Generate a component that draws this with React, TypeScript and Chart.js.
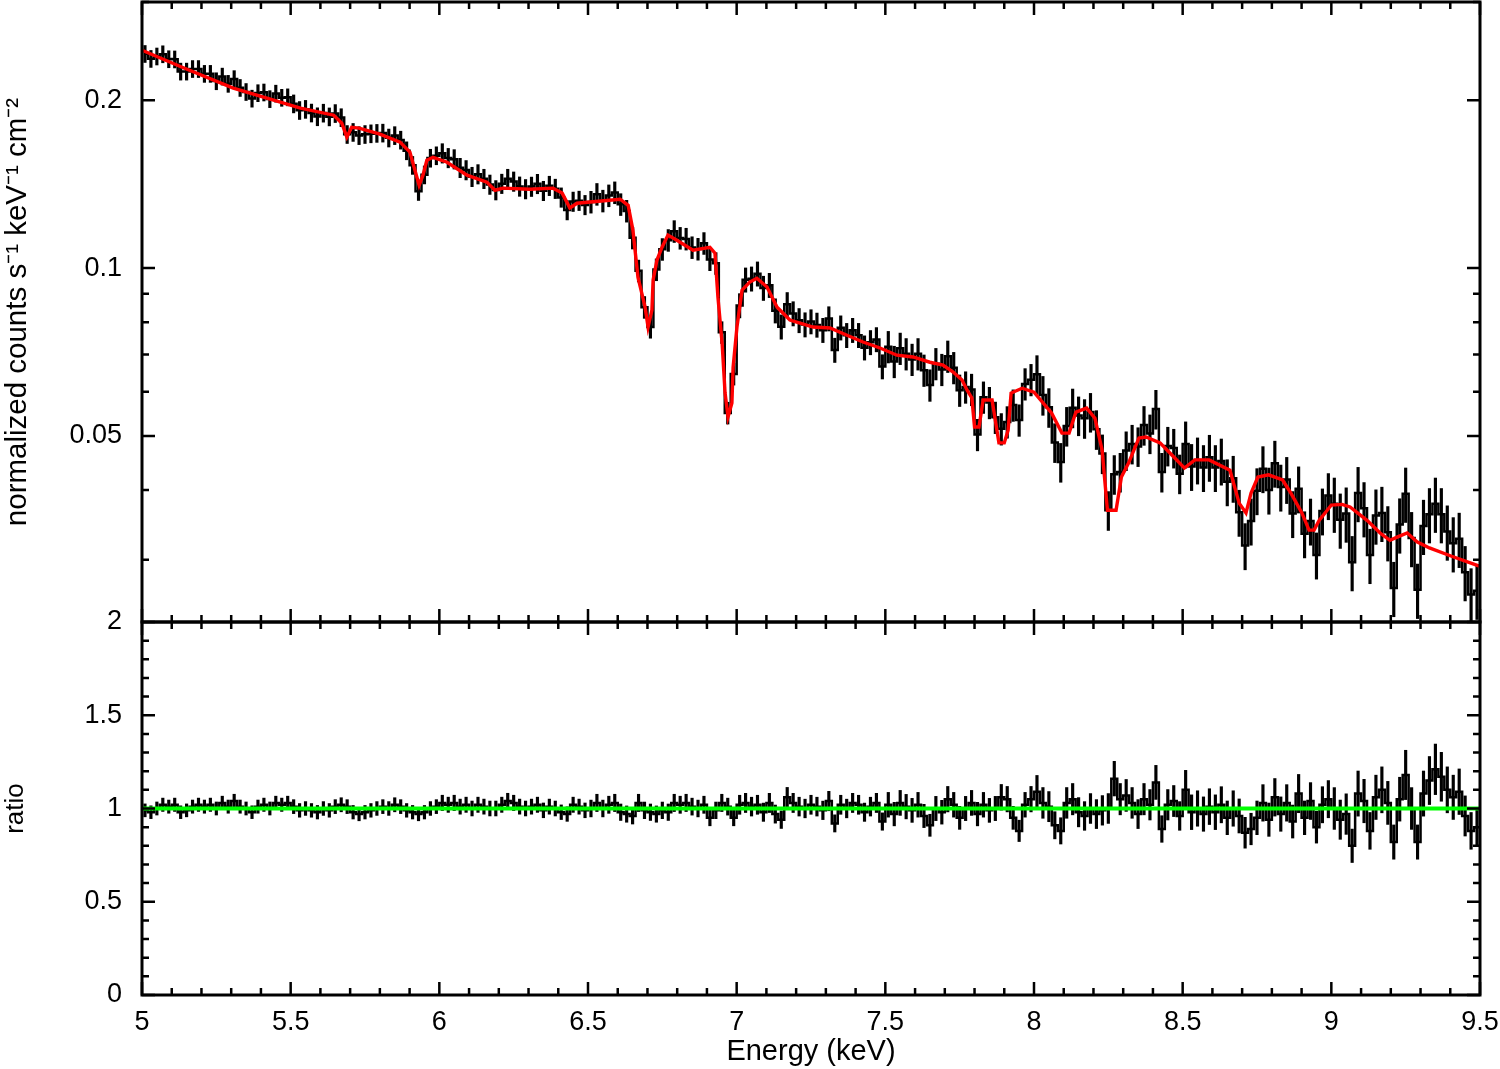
import React, { useEffect, useRef } from 'react';
import { Chart, registerables } from 'chart.js';
Chart.register(...registerables);

// ---- bin centres (keV) ----
const energy = [
  5.01, 5.03, 5.05, 5.07, 5.09, 5.11, 5.13, 5.15, 5.17, 5.19,
  5.21, 5.23, 5.25, 5.27, 5.29, 5.31, 5.33, 5.35, 5.37, 5.39,
  5.41, 5.43, 5.45, 5.47, 5.49, 5.51, 5.53, 5.55, 5.57, 5.59,
  5.61, 5.63, 5.65, 5.67, 5.69, 5.71, 5.73, 5.75, 5.77, 5.79,
  5.81, 5.83, 5.85, 5.87, 5.89, 5.91, 5.93, 5.95, 5.97, 5.99,
  6.01, 6.03, 6.05, 6.07, 6.09, 6.11, 6.13, 6.15, 6.17, 6.19,
  6.21, 6.23, 6.25, 6.27, 6.29, 6.31, 6.33, 6.35, 6.37, 6.39,
  6.41, 6.43, 6.45, 6.47, 6.49, 6.51, 6.53, 6.55, 6.57, 6.59,
  6.61, 6.63, 6.65, 6.67, 6.69, 6.71, 6.73, 6.75, 6.77, 6.79,
  6.81, 6.83, 6.85, 6.87, 6.89, 6.91, 6.93, 6.95, 6.97, 6.99,
  7.01, 7.03, 7.05, 7.07, 7.09, 7.11, 7.13, 7.15, 7.17, 7.19,
  7.21, 7.23, 7.25, 7.27, 7.29, 7.31, 7.33, 7.35, 7.37, 7.39,
  7.41, 7.43, 7.45, 7.47, 7.49, 7.51, 7.53, 7.55, 7.57, 7.59,
  7.61, 7.63, 7.65, 7.67, 7.69, 7.71, 7.73, 7.75, 7.77, 7.79,
  7.81, 7.83, 7.85, 7.87, 7.89, 7.91, 7.93, 7.95, 7.97, 7.99,
  8.01, 8.03, 8.05, 8.07, 8.09, 8.11, 8.13, 8.15, 8.17, 8.19,
  8.21, 8.23, 8.25, 8.27, 8.29, 8.31, 8.33, 8.35, 8.37, 8.39,
  8.41, 8.43, 8.45, 8.47, 8.49, 8.51, 8.53, 8.55, 8.57, 8.59,
  8.61, 8.63, 8.65, 8.67, 8.69, 8.71, 8.73, 8.75, 8.77, 8.79,
  8.81, 8.83, 8.85, 8.87, 8.89, 8.91, 8.93, 8.95, 8.97, 8.99,
  9.01, 9.03, 9.05, 9.07, 9.09, 9.11, 9.13, 9.15, 9.17, 9.19,
  9.21, 9.23, 9.25, 9.27, 9.29, 9.31, 9.33, 9.35, 9.37, 9.39,
  9.41, 9.43, 9.45, 9.47, 9.49,
];

// ---- observed normalized counts (s^-1 keV^-1 cm^-2) ----
const counts = [
  0.2422, 0.2373, 0.2397, 0.2419, 0.2370, 0.2368, 0.2252, 0.2252, 0.2276, 0.2276,
  0.2231, 0.2231, 0.2164, 0.2206, 0.2141, 0.2183, 0.2105, 0.2070, 0.2014, 0.2060,
  0.2066, 0.2010, 0.2056, 0.2021, 0.2025, 0.1971, 0.1918, 0.1927, 0.1898, 0.1869,
  0.1897, 0.1868, 0.1894, 0.1862, 0.1737, 0.1752, 0.1729, 0.1737, 0.1742, 0.1745,
  0.1747, 0.1712, 0.1729, 0.1697, 0.1624, 0.1529, 0.1373, 0.1470, 0.1575, 0.1591,
  0.1607, 0.1576, 0.1568, 0.1513, 0.1499, 0.1458, 0.1474, 0.1446, 0.1412, 0.1380,
  0.1417, 0.1446, 0.1430, 0.1401, 0.1386, 0.1400, 0.1416, 0.1376, 0.1405, 0.1388,
  0.1339, 0.1271, 0.1316, 0.1321, 0.1298, 0.1314, 0.1357, 0.1320, 0.1349, 0.1366,
  0.1301, 0.1266, 0.1133, 0.0989, 0.0851, 0.0784, 0.0994, 0.1081, 0.1122, 0.1164,
  0.1132, 0.1128, 0.1089, 0.1082, 0.1108, 0.1036, 0.1020, 0.0767, 0.0550, 0.0646,
  0.0857, 0.0953, 0.0957, 0.0977, 0.0921, 0.0932, 0.0839, 0.0785, 0.0861, 0.0829,
  0.0806, 0.0792, 0.0802, 0.0791, 0.0774, 0.0812, 0.0713, 0.0782, 0.0758, 0.0774,
  0.0758, 0.0720, 0.0736, 0.0745, 0.0666, 0.0723, 0.0680, 0.0718, 0.0702, 0.0686,
  0.0702, 0.0656, 0.0617, 0.0674, 0.0658, 0.0695, 0.0663, 0.0604, 0.0612, 0.0606,
  0.0503, 0.0587, 0.0574, 0.0540, 0.0515, 0.0530, 0.0568, 0.0534, 0.0620, 0.0631,
  0.0645, 0.0592, 0.0563, 0.0487, 0.0449, 0.0521, 0.0562, 0.0544, 0.0538, 0.0552,
  0.0514, 0.0465, 0.0368, 0.0427, 0.0431, 0.0471, 0.0484, 0.0479, 0.0523, 0.0505,
  0.0559, 0.0431, 0.0480, 0.0476, 0.0428, 0.0484, 0.0441, 0.0453, 0.0439, 0.0458,
  0.0439, 0.0451, 0.0414, 0.0420, 0.0365, 0.0318, 0.0352, 0.0399, 0.0437, 0.0400,
  0.0447, 0.0405, 0.0418, 0.0363, 0.0402, 0.0334, 0.0352, 0.0306, 0.0367, 0.0391,
  0.0378, 0.0354, 0.0363, 0.0297, 0.0395, 0.0371, 0.0306, 0.0360, 0.0364, 0.0336,
  0.0267, 0.0347, 0.0394, 0.0328, 0.0265, 0.0345, 0.0362, 0.0378, 0.0362, 0.0337,
  0.0321, 0.0327, 0.0285, 0.0260, 0.0264,
];

// ---- data / model ratio ----
const ratio = [
  0.99, 0.98, 1.00, 1.02, 1.01, 1.02, 0.98, 0.99, 1.01, 1.02,
  1.01, 1.02, 1.00, 1.03, 1.01, 1.04, 1.01, 1.00, 0.98, 1.01,
  1.02, 1.00, 1.03, 1.02, 1.03, 1.01, 0.99, 1.00, 0.99, 0.98,
  1.00, 0.99, 1.01, 1.02, 1.01, 0.98, 0.97, 0.98, 0.99, 1.00,
  1.01, 1.00, 1.02, 1.01, 0.99, 0.98, 0.97, 0.98, 1.00, 1.01,
  1.03, 1.02, 1.03, 1.01, 1.02, 1.00, 1.02, 1.01, 1.00, 1.00,
  1.02, 1.04, 1.03, 1.01, 1.00, 1.01, 1.02, 0.99, 1.01, 1.00,
  0.98, 0.97, 1.02, 1.01, 0.99, 1.00, 1.03, 1.00, 1.02, 1.03,
  0.98, 0.97, 0.96, 1.03, 0.99, 0.98, 0.97, 0.99, 0.98, 1.03,
  1.02, 1.03, 1.01, 1.00, 1.02, 0.95, 0.99, 1.03, 1.01, 0.95,
  1.02, 1.03, 1.01, 1.02, 0.98, 1.03, 0.97, 0.94, 1.06, 1.03,
  1.01, 1.00, 1.02, 1.01, 0.99, 1.04, 0.92, 1.02, 1.00, 1.03,
  1.02, 0.98, 1.01, 1.03, 0.93, 1.02, 0.97, 1.03, 1.01, 0.99,
  1.02, 0.96, 0.91, 1.00, 0.98, 1.05, 1.02, 0.95, 1.00, 1.03,
  0.97, 1.02, 0.99, 1.00, 1.06, 1.05, 0.95, 0.88, 1.02, 1.05,
  1.09, 1.03, 1.01, 0.91, 0.88, 1.03, 1.05, 0.98, 0.96, 1.00,
  0.97, 0.99, 1.00, 1.16, 1.05, 1.07, 1.03, 0.97, 1.05, 1.02,
  1.14, 0.89, 1.02, 1.04, 0.96, 1.10, 0.98, 1.00, 0.97, 1.01,
  0.98, 1.02, 0.95, 1.00, 0.96, 0.87, 0.89, 0.95, 1.03, 0.94,
  1.06, 0.97, 1.03, 0.93, 1.08, 0.95, 1.04, 0.90, 1.02, 1.05,
  1.00, 0.94, 0.97, 0.80, 1.08, 1.04, 0.88, 1.06, 1.10, 1.03,
  0.82, 1.05, 1.18, 1.00, 0.82, 1.08, 1.15, 1.21, 1.17, 1.10,
  1.06, 1.09, 0.96, 0.88, 0.90,
];

// relative 1-sigma error for each 0.5 keV band (5-5.5, 5.5-6, ... 9-9.5)
const relErrorBand = [0.035, 0.037, 0.04, 0.045, 0.05, 0.065, 0.08, 0.095, 0.112];

// ---- best-fitting model (red) ----
const modelEnergy = [
  5.000, 5.135, 5.307, 5.533, 5.645, 5.672, 5.689, 5.705, 5.730, 5.800,
  5.868, 5.901, 5.918, 5.932, 5.945, 5.958, 5.979, 6.026, 6.093, 6.160,
  6.187, 6.214, 6.305, 6.382, 6.413, 6.439, 6.463, 6.608, 6.635, 6.651,
  6.668, 6.692, 6.702, 6.715, 6.719, 6.732, 6.749, 6.769, 6.799, 6.853,
  6.910, 6.927, 6.937, 6.951, 6.961, 6.971, 6.984, 6.988, 7.001, 7.018,
  7.044, 7.068, 7.102, 7.136, 7.179, 7.213, 7.257, 7.314, 7.371, 7.425,
  7.482, 7.539, 7.593, 7.650, 7.694, 7.728, 7.758, 7.775, 7.791, 7.800,
  7.815, 7.829, 7.859, 7.882, 7.900, 7.913, 7.923, 7.960, 8.000, 8.059,
  8.094, 8.118, 8.141, 8.177, 8.205, 8.229, 8.247, 8.276, 8.294, 8.318,
  8.353, 8.377, 8.424, 8.471, 8.506, 8.541, 8.589, 8.659, 8.690, 8.713,
  8.730, 8.753, 8.789, 8.836, 8.864, 8.901, 8.925, 8.942, 8.959, 9.000,
  9.036, 9.063, 9.120, 9.164, 9.197, 9.225, 9.255, 9.288, 9.330, 9.400,
  9.500,
];
const modelFlux = [
  0.2458, 0.2292, 0.2102, 0.1935, 0.1880, 0.1819, 0.1717, 0.1789, 0.1782, 0.1738,
  0.1682, 0.1614, 0.1498, 0.1408, 0.1468, 0.1561, 0.1580, 0.1548, 0.1468, 0.1426,
  0.1379, 0.1391, 0.1385, 0.1391, 0.1363, 0.1282, 0.1307, 0.1329, 0.1296, 0.1170,
  0.0963, 0.0851, 0.0784, 0.0841, 0.0952, 0.1034, 0.1090, 0.1146, 0.1122, 0.1077,
  0.1090, 0.1064, 0.0887, 0.0734, 0.0597, 0.0541, 0.0573, 0.0664, 0.0784, 0.0913,
  0.0944, 0.0959, 0.0925, 0.0851, 0.0807, 0.0797, 0.0784, 0.0781, 0.0758, 0.0737,
  0.0719, 0.0698, 0.0693, 0.0678, 0.0670, 0.0651, 0.0630, 0.0604, 0.0585, 0.0519,
  0.0519, 0.0580, 0.0580, 0.0486, 0.0486, 0.0512, 0.0597, 0.0609, 0.0599, 0.0550,
  0.0506, 0.0506, 0.0552, 0.0561, 0.0538, 0.0472, 0.0368, 0.0368, 0.0422, 0.0447,
  0.0496, 0.0498, 0.0486, 0.0458, 0.0438, 0.0453, 0.0453, 0.0434, 0.0379, 0.0364,
  0.0395, 0.0422, 0.0426, 0.0417, 0.0395, 0.0364, 0.0339, 0.0339, 0.0353, 0.0376,
  0.0377, 0.0373, 0.0353, 0.0335, 0.0325, 0.0330, 0.0335, 0.0323, 0.0315, 0.0305,
  0.0292,
];

// ---- axes ----
const xMajorTicks = [5, 5.5, 6, 6.5, 7, 7.5, 8, 8.5, 9, 9.5];
const xMinorTicks = [
  5.1, 5.2, 5.3, 5.4, 5.6, 5.7, 5.8, 5.9, 6.1, 6.2, 6.3, 6.4, 6.6, 6.7, 6.8, 6.9,
  7.1, 7.2, 7.3, 7.4, 7.6, 7.7, 7.8, 7.9, 8.1, 8.2, 8.3, 8.4, 8.6, 8.7, 8.8, 8.9,
  9.1, 9.2, 9.3, 9.4,
];
const fluxMajorTicks = [0.05, 0.1, 0.2];
const fluxMinorTicks = [0.03, 0.04, 0.06, 0.07, 0.08, 0.09, 0.3];
const ratioMajorTicks = [0, 0.5, 1, 1.5, 2];
const ratioMinorTicks = [
  0.1, 0.2, 0.3, 0.4, 0.6, 0.7, 0.8, 0.9, 1.1, 1.2, 1.3, 1.4, 1.6, 1.7, 1.8, 1.9,
];

const FONT = "'Liberation Sans', Arial, Helvetica, sans-serif";

const framePlugin = {
  id: 'frame',
  afterDraw(chart: any) {
    const { ctx, chartArea: a, scales } = chart;
    const xs = scales.x, ys = scales.y, yr = scales.y2;
    const L = a.left, R = a.right;
    const panels = [
      { s: ys, top: ys.top, bottom: ys.bottom, major: fluxMajorTicks, minor: fluxMinorTicks },
      { s: yr, top: yr.top, bottom: yr.bottom, major: ratioMajorTicks, minor: ratioMinorTicks },
    ];
    ctx.save();
    ctx.strokeStyle = '#000';
    ctx.lineCap = 'butt';
    const MAJ = 13, MIN = 7;
    ctx.lineWidth = 2.5;
    ctx.beginPath();
    for (const p of panels) {
      const xt = [...xMajorTicks.map((v) => [v, MAJ]), ...xMinorTicks.map((v) => [v, MIN])];
      for (const [v, len] of xt) {
        const px = xs.getPixelForValue(v);
        ctx.moveTo(px, p.top); ctx.lineTo(px, p.top + len);
        ctx.moveTo(px, p.bottom); ctx.lineTo(px, p.bottom - len);
      }
      const yt = [...p.major.map((v: number) => [v, MAJ]), ...p.minor.map((v: number) => [v, MIN])];
      for (const [v, len] of yt) {
        const py = p.s.getPixelForValue(v);
        if (py < p.top - 1 || py > p.bottom + 1) continue;
        ctx.moveTo(L, py); ctx.lineTo(L + len, py);
        ctx.moveTo(R, py); ctx.lineTo(R - len, py);
      }
    }
    ctx.stroke();
    ctx.lineWidth = 3;
    for (const p of panels) {
      ctx.strokeRect(L, p.top, R - L, p.bottom - p.top);
    }
    ctx.restore();
  },
};

function bandError(e: number) {
  return relErrorBand[Math.min(relErrorBand.length - 1, Math.floor((e - 5) / 0.5))];
}

export default function App() {
  const ref = useRef<HTMLCanvasElement | null>(null);
  useEffect(() => {
    if (!ref.current) return;
    Chart.defaults.font.family = FONT;
    Chart.defaults.color = '#000';

    const countPts = energy.map((e, i) => ({ x: e, y: counts[i] }));
    const countErr = energy.map((e, i) => {
      const f = bandError(e);
      return { x: e, y: [counts[i] * (1 - f), counts[i] * (1 + f)] };
    });
    const ratioPts = energy.map((e, i) => ({ x: e, y: ratio[i] }));
    const ratioErr = energy.map((e, i) => {
      const f = bandError(e);
      return { x: e, y: [ratio[i] - f * ratio[i], ratio[i] + f * ratio[i]] };
    });
    const modelPts = modelEnergy.map((e, i) => ({ x: e, y: modelFlux[i] }));

    const tickFont = { size: 27, family: FONT };

    const chart = new Chart(ref.current, {
      type: 'line',
      data: {
        datasets: [
          {
            type: 'line', label: 'model', data: modelPts, yAxisID: 'y', order: 0,
            borderColor: '#ff0000', borderWidth: 3.4, pointRadius: 0, tension: 0,
          } as any,
          {
            type: 'line', label: 'unity', data: [{ x: 5, y: 1 }, { x: 9.5, y: 1 }], yAxisID: 'y2', order: 0,
            borderColor: '#00ff00', borderWidth: 3.8, pointRadius: 0,
          } as any,
          {
            type: 'line', label: 'data', data: countPts, yAxisID: 'y', order: 1,
            stepped: 'middle', pointRadius: 0, borderColor: '#000', borderWidth: 2.5,
          } as any,
          {
            type: 'bar', label: 'data error', data: countErr, yAxisID: 'y', order: 2,
            backgroundColor: '#000', borderWidth: 0, barThickness: 2.5, grouped: false,
          } as any,
          {
            type: 'line', label: 'ratio', data: ratioPts, yAxisID: 'y2', order: 1,
            stepped: 'middle', pointRadius: 0, borderColor: '#000', borderWidth: 2.5,
          } as any,
          {
            type: 'bar', label: 'ratio error', data: ratioErr, yAxisID: 'y2', order: 2,
            backgroundColor: '#000', borderWidth: 0, barThickness: 2.5, grouped: false,
          } as any,
        ],
      },
      options: {
        animation: false,
        responsive: false,
        devicePixelRatio: 1,
        events: [],
        layout: { padding: { top: 2, right: 20, left: 0, bottom: 0 } },
        plugins: { legend: { display: false }, tooltip: { enabled: false } },
        scales: {
          x: {
            type: 'linear', position: 'bottom', min: 5, max: 9.5, offset: false,
            grid: { display: false, drawTicks: false }, border: { display: false },
            afterBuildTicks: (s: any) => { s.ticks = xMajorTicks.map((v) => ({ value: v })); },
            afterFit: (s: any) => { s.height = 74; s.paddingLeft = 0; s.paddingRight = 0; },
            ticks: { font: tickFont, padding: 11, maxRotation: 0, autoSkip: false, callback: (v: any) => String(v) },
            title: { display: true, text: 'Energy (keV)', font: { size: 29, family: FONT }, padding: { top: 0, bottom: 0 } },
          },
          y2: {
            type: 'linear', position: 'left', stack: 'panels', stackWeight: 373,
            min: 0, max: 2,
            grid: { display: false, drawTicks: false }, border: { display: false },
            afterBuildTicks: (s: any) => { s.ticks = ratioMajorTicks.map((v) => ({ value: v })); },
            afterFit: (s: any) => { s.width = 142; s.paddingTop = 0; s.paddingBottom = 0; },
            ticks: { font: tickFont, padding: 20, autoSkip: false, callback: (v: any) => String(v) },
            title: { display: true, text: 'ratio', font: { size: 26, family: FONT }, padding: { top: 0, bottom: 0 } },
          },
          y: {
            type: 'logarithmic', position: 'left', stack: 'panels', stackWeight: 620,
            min: 0.0232, max: 0.3,
            grid: { display: false, drawTicks: false }, border: { display: false },
            afterBuildTicks: (s: any) => { s.ticks = fluxMajorTicks.map((v) => ({ value: v, major: true })); },
            afterFit: (s: any) => { s.width = 142; s.paddingTop = 0; s.paddingBottom = 0; },
            ticks: { font: tickFont, padding: 20, autoSkip: false, callback: (v: any) => String(v) },
            title: { display: true, text: 'normalized counts s\u207B\u00B9 keV\u207B\u00B9 cm\u207B\u00B2', font: { size: 29.5, family: FONT }, padding: { top: 0, bottom: 0 } },
          },
        },
      } as any,
      plugins: [framePlugin],
    });
    return () => chart.destroy();
  }, []);

  return (
    <div style={{ position: 'absolute', left: 0, top: 0, width: 1500, height: 1069, background: '#fff' }}>
      <canvas ref={ref} width={1500} height={1069} style={{ width: 1500, height: 1069, display: 'block' }} />
    </div>
  );
}
